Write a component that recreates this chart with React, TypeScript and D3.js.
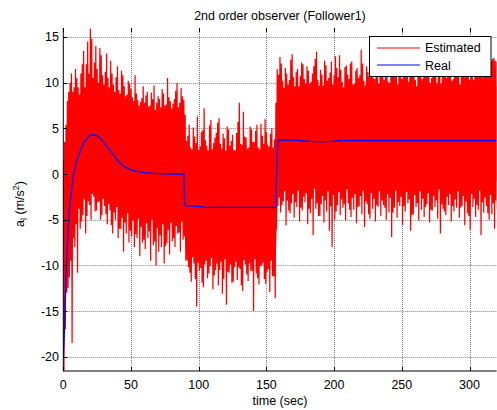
import React, { useEffect, useRef } from 'react'
import * as d3 from 'd3'

const W = 497
const H = 410
const LEFT = 63.3
const RIGHT = 496.6
const TOP = 28
const BOTTOM = 371
const FONT = 'Liberation Sans, Arial, sans-serif'

const xTicks = [0, 50, 100, 150, 200, 250, 300]
const yTicks = [-20, -15, -10, -5, 0, 5, 10, 15]

// estimated signal: peaks/troughs, one pair per second
// even seconds (0, 2, ... 320)
const estUpperEven = [
  1.5, 5.4, 9, 11, 9.5, 10.5, 8.5, 12, 9.5, 14.5,
  15.9, 10.5, 14, 10, 13, 9.8, 13.2, 9.5, 11, 9,
  11.8, 8.8, 10.8, 8.5, 10.2, 9.3, 8, 8.8, 7.5, 8.3,
  7.8, 9, 7.5, 8.2, 7, 8.5, 7.3, 8.8, 7.6, 8.4,
  7.2, 8.2, 10, 7.8, 8.5, 6.5,
  4.2, 2.9, 5.1, 3.4, 2.6, 4.6, 7.2, 3.1, 5.3, 2.7,
  4, 5.6, 3.3, 4.4, 2.5, 4.9, 3.6, 2.6, 4.5, 7.8,
  3.2, 4.1, 2.8, 5.2, 3.5, 4.7, 2.9, 5.5, 3.3, 4.6,
  3, 5, 3.8,
  11.5, 12.8, 10.2, 11.6, 9.8, 12.5, 10.6, 11.2, 9.6, 12.2,
  10.4, 11.8, 9.9, 11, 12.6, 10.3, 11.4, 9.7, 11.9, 10.5,
  12.3, 10.8, 11.6, 13, 10.1, 11.7, 10.9, 12.1, 9.8, 11.3,
  10.5, 13.6, 10.2, 11.8, 10.7, 12, 10.4, 11.5, 12.4, 10.6,
  11.9, 10.1, 12.7, 11.2, 10.8, 12.2, 10.4, 11.6, 13.1, 10.9,
  11.4, 10.3, 12.5, 11, 10.6, 11.9, 12.8, 10.5, 11.3, 10,
  12.3, 11.1, 10.7, 11.8, 13.2, 10.4, 11.5, 12.1, 10.8, 11.2,
  12.6, 10.3, 11.7, 10.9, 12, 11.4, 10.6, 11.9, 11.2, 12.4,
  12.7, 12.3,
]
const estLowerEven = [
  -21.5, -13, -11.3, -18.5, -8, -10.8, -6, -4.5, -6.5, -3,
  -5, -2.5, -4, -3, -4.5, -3.5, -5.5, -4, -6.5, -5,
  -7, -6, -8.5, -6.5, -7.5, -6.8, -8, -7, -9, -7.5,
  -8.2, -7, -9.5, -7.8, -10, -8.5, -8, -9.8, -7.6, -8.8,
  -7.4, -8, -6.5, -8.5, -7.2, -9.5,
  -10.2, -11.8, -9.8, -14.5, -10.6, -11.9, -9.9, -11.4, -10.1, -12.6,
  -10.5, -12.2, -9.6, -11.5, -14.3, -10.8, -11.9, -10.2, -11.6, -10.4,
  -12.8, -9.9, -11.7, -10.6, -15, -10.9, -12.1, -10, -11.5, -10.7,
  -12.9, -11.2, -13.6,
  -3.5, -4.2, -3, -5.6, -4, -3.2, -4.8, -3.6, -5.2, -4,
  -3.1, -5.5, -4.3, -6.7, -3.8, -4.6, -3.3, -5.3, -4.1, -6.2,
  -8, -5, -3.4, -4.5, -3.7, -5.1, -3.2, -4.7, -3.9, -5.4,
  -3.5, -4.4, -5.8, -3.3, -4.9, -3.8, -5.2, -3.6, -4.6, -3.4,
  -5, -4.2, -6.9, -3.7, -4.8, -3.5, -5.6, -4.1, -3.2, -6.2,
  -4.4, -3.6, -5.1, -3.9, -4.7, -3.3, -5.3, -4, -3.6, -4.9,
  -6.5, -3.8, -4.5, -3.4, -5.2, -4.1, -3.7, -4.8, -3.5, -5.6,
  -4.3, -6.1, -3.6, -4.7, -3.9, -6.7, -4.2, -3.5, -5, -4.4,
  -6, -3.8,
]
// odd seconds (1, 3, ... 319)
const estUpperOdd = [
  3.5, 8, 10, 9, 11.5,
  9.5, 11, 13.5, 12, 11, 14.8, 12.2, 11.5, 13.8, 10.8,
  11.2, 10.5, 12.4, 9.8, 10.6, 9.2, 11.3, 9.6, 8.7, 9.9,
  8.4, 10.8, 8.1, 7.9, 9.6, 8.6, 7.4, 8.9, 9.7, 7.8,
  8.2, 9.3, 7.5, 10.5, 8, 7.7, 9.1, 7.3, 9.4, 8.1,
  3.6, 5.4, 2.7, 4.1, 6.3, 3, 4.8, 3.7, 2.4, 5.9,
  3.4, 4.5, 6.1, 2.8, 3.9, 5.2, 3.1, 4.3, 2.6, 5.7,
  3.3, 6.8, 4, 2.9, 4.9, 3.5, 5.4, 2.7, 4.2, 6,
  3.2, 4.4, 2.9,
  7.8, 10.9, 12.1, 9.4, 11, 10.3, 13.1, 9.6, 11.5, 10.7,
  12, 9.9, 11.3, 10.1, 11.8, 13.4, 9.7, 10.9, 12.4, 10.2,
  11.1, 9.8, 12.9, 10.6, 11.4, 9.5, 11.9, 10.4, 12.3, 9.9,
  11.6, 10.8, 12.1, 9.7, 11.2, 13.3, 10.5, 11.7, 9.9, 12.6,
  10.3, 11.5, 10, 12.2, 11, 9.8, 12.8, 10.6, 11.3, 10.1,
  12.5, 10.9, 9.6, 11.8, 10.4, 13, 11.2, 10, 12.1, 10.7,
  11.4, 9.9, 12.7, 10.5, 11.6, 10.2, 12.3, 11, 9.8, 11.9,
  10.6, 13.5, 11.1, 10.3, 12, 10.8, 11.5, 12.9, 11.3, 10.7,
  12.6, 12.4,
]
const estLowerOdd = [
  -17, -12.5, -9.5, -7, -5.5,
  -3.8, -5.2, -2.8, -4.6, -3.4, -2.2, -4.1, -3.1, -5, -2.7,
  -4.4, -3.3, -5.6, -4.2, -3.6, -6, -4.8, -5.3, -4.3, -6.2,
  -5.1, -6.6, -4.9, -5.8, -7.2, -5.4, -6.3, -5, -7.4, -5.9,
  -6.7, -5.5, -7.9, -6.1, -5.3, -7, -5.7, -6.4, -5.2, -6.8,
  -9.4, -10.8, -9.1, -11.5, -9.7, -10.3, -12.4, -9.5, -10.9, -9.2,
  -11.1, -9.8, -10.5, -13.1, -9.3, -10.7, -9.9, -11.8, -9.6, -10.2,
  -12.2, -9.4, -11, -9.8, -10.6, -9.3, -11.4, -10.1, -9.7, -12,
  -10.4, -9.5, -11.2,
  -6, -2.6, -3.4, -1.9, -2.9, -4.3, -2.2, -3.1, -1.8, -3.7,
  -2.5, -2.1, -3.8, -2.7, -1.6, -3.2, -4.6, -2.4, -2.9, -1.9,
  -3.5, -2.3, -4.1, -2, -2.8, -3.3, -1.7, -3.9, -2.6, -2.2,
  -3.6, -2.4, -1.8, -3, -4.4, -2.1, -2.7, -3.4, -1.9, -2.9,
  -3.7, -2.2, -2.6, -4.2, -1.8, -3.1, -2.5, -3.5, -2, -2.8,
  -4.5, -2.3, -3.2, -1.9, -2.7, -3.6, -2.1, -3.9, -2.4, -2.9,
  -1.7, -3.3, -4.1, -2.5, -2.2, -3.5, -2.8, -1.9, -3.7, -2.4,
  -3, -4.6, -2.2, -2.7, -3.4, -1.8, -3.1, -2.6, -4.3, -2.3,
  -3.2, -2.9,
]

// solid core of the noisy band
const coreT = [0.5, 3, 6, 10, 20, 30, 45, 60, 80, 89, 90.5, 157, 158.5, 320]
const coreUp = [1, 5, 7.6, 8.6, 9.2, 8.4, 7.1, 6.3, 6, 5.9, 2.6, 2.5, 9.3, 9.6]
const coreLo = [-15, -8.5, -4, -2, -1.7, -2.7, -3.7, -4.5, -4.9, -5.1, -8.7, -8.8, -1, -0.8]

// real acceleration
const realT = [0, 0.5, 1.3, 2.5, 4, 5, 7.5, 10, 12.5, 15, 17.5, 20, 22, 25, 27.5, 30, 35, 40, 45, 50, 55, 60, 70, 80, 89, 89.3, 89.6, 90.5, 100, 105, 157, 157.5, 158.5, 170, 185, 196, 205, 320]
const realV = [-20, -18.5, -14.7, -9.2, -5, -3.1, -0.1, 1.5, 2.5, 3.4, 3.9, 4.25, 4.3, 4.2, 3.9, 3.4, 2.5, 1.5, 0.8, 0.45, 0.25, 0.15, 0.05, 0, 0, -1.5, -3.2, -3.5, -3.55, -3.65, -3.65, 0, 3.7, 3.7, 3.55, 3.55, 3.65, 3.65]

export default function App() {
  const ref = useRef<SVGSVGElement>(null)

  useEffect(() => {
    const svg = d3.select(ref.current)
    svg.selectAll('*').remove()

    const x = d3.scaleLinear().domain([0, 320]).range([LEFT, RIGHT])
    const y = d3.scaleLinear().domain([-21.56, 15.98]).range([BOTTOM, TOP])

    svg.append('defs').append('clipPath').attr('id', 'plot')
      .append('rect').attr('x', LEFT).attr('y', TOP)
      .attr('width', RIGHT - LEFT).attr('height', BOTTOM - TOP)

    // grid
    const grid = svg.append('g').attr('stroke', '#808080').attr('stroke-dasharray', '1,1')
    grid.selectAll('line.gx').data(xTicks.slice(1)).enter().append('line')
      .attr('x1', d => Math.round(x(d)) + 0.5).attr('x2', d => Math.round(x(d)) + 0.5)
      .attr('y1', TOP).attr('y2', BOTTOM)
    grid.selectAll('line.gy').data(yTicks).enter().append('line')
      .attr('y1', d => Math.round(y(d)) + 0.5).attr('y2', d => Math.round(y(d)) + 0.5)
      .attr('x1', LEFT).attr('x2', RIGHT)

    const plot = svg.append('g').attr('clip-path', 'url(#plot)')

    const core = d3.area<number>()
      .x((d, i) => x(coreT[i]))
      .y0((d, i) => y(coreLo[i]))
      .y1(d => y(d))
    plot.append('path').datum(coreUp).attr('d', core).attr('fill', '#ff0000')

    // interleave even/odd seconds into one zig-zag trace
    const zig: [number, number][] = []
    estUpperEven.forEach((u, i) => {
      zig.push([2 * i, u])
      zig.push([2 * i + 0.5, estLowerEven[i]])
      if (i < estUpperOdd.length) {
        zig.push([2 * i + 1, estUpperOdd[i]])
        zig.push([2 * i + 1.5, estLowerOdd[i]])
      }
    })
    const line = d3.line<[number, number]>().x(d => x(d[0])).y(d => y(d[1]))
    plot.append('path').datum(zig).attr('d', line)
      .attr('fill', 'none').attr('stroke', '#ff0000').attr('stroke-width', 1.25)

    const realLine = d3.line<number>().x((d, i) => x(realT[i])).y(d => y(d))
    plot.append('path').datum(realV).attr('d', realLine)
      .attr('fill', 'none').attr('stroke', '#0000ff').attr('stroke-width', 1.3)

    // axes
    const ax = svg.append('g').attr('stroke', '#000')
    ax.append('line').attr('x1', LEFT).attr('x2', LEFT).attr('y1', TOP).attr('y2', BOTTOM + 0.5)
    ax.append('line').attr('x1', LEFT).attr('x2', RIGHT).attr('y1', BOTTOM).attr('y2', BOTTOM)
    xTicks.forEach(t => {
      const px = Math.round(x(t)) + 0.5
      ax.append('line').attr('x1', px).attr('x2', px).attr('y1', BOTTOM).attr('y2', BOTTOM - 4)
      ax.append('line').attr('x1', px).attr('x2', px).attr('y1', TOP).attr('y2', TOP + 4)
    })
    yTicks.forEach(t => {
      const py = Math.round(y(t)) + 0.5
      ax.append('line').attr('x1', LEFT).attr('x2', LEFT + 4).attr('y1', py).attr('y2', py)
    })

    const txt = svg.append('g').attr('font-family', FONT).attr('font-size', 12.5).attr('fill', '#000')
    txt.selectAll('text.xt').data(xTicks).enter().append('text')
      .attr('x', d => x(d)).attr('y', 388.5).attr('text-anchor', 'middle').text(d => d)
    txt.selectAll('text.yt').data(yTicks).enter().append('text')
      .attr('x', 59).attr('y', d => y(d) + 4.5).attr('text-anchor', 'end').text(d => d)
    txt.append('text').attr('x', (LEFT + RIGHT) / 2).attr('y', 405).attr('text-anchor', 'middle').text('time (sec)')
    txt.append('text').attr('x', (LEFT + RIGHT) / 2).attr('y', 19.5).attr('text-anchor', 'middle')
      .text('2nd order observer (Follower1)')

    const yl = txt.append('text').attr('transform', 'translate(23.5,204) rotate(-90)').attr('text-anchor', 'middle')
    yl.append('tspan').text('a')
    yl.append('tspan').attr('font-size', 9).attr('dy', 3).text('l')
    yl.append('tspan').attr('dy', -3).text(' (m/s')
    yl.append('tspan').attr('font-size', 9).attr('dy', -5).text('2')
    yl.append('tspan').attr('dy', 5).text(')')

    // legend
    const lg = svg.append('g')
    lg.append('rect').attr('x', 369.5).attr('y', 36.5).attr('width', 121.5).attr('height', 40)
      .attr('fill', '#fff').attr('stroke', '#000')
    lg.append('line').attr('x1', 377).attr('x2', 420).attr('y1', 48).attr('y2', 48).attr('stroke', '#ff0000')
    lg.append('line').attr('x1', 377).attr('x2', 420).attr('y1', 65).attr('y2', 65).attr('stroke', '#0000ff')
    lg.append('text').attr('x', 425).attr('y', 52).attr('font-family', FONT).attr('font-size', 12.5).text('Estimated')
    lg.append('text').attr('x', 425).attr('y', 70).attr('font-family', FONT).attr('font-size', 12.5).text('Real')
  }, [])

  return (
    <svg ref={ref} width={W} height={H}
      style={{ position: 'absolute', left: 0, top: 0, background: '#fff' }} />
  )
}
